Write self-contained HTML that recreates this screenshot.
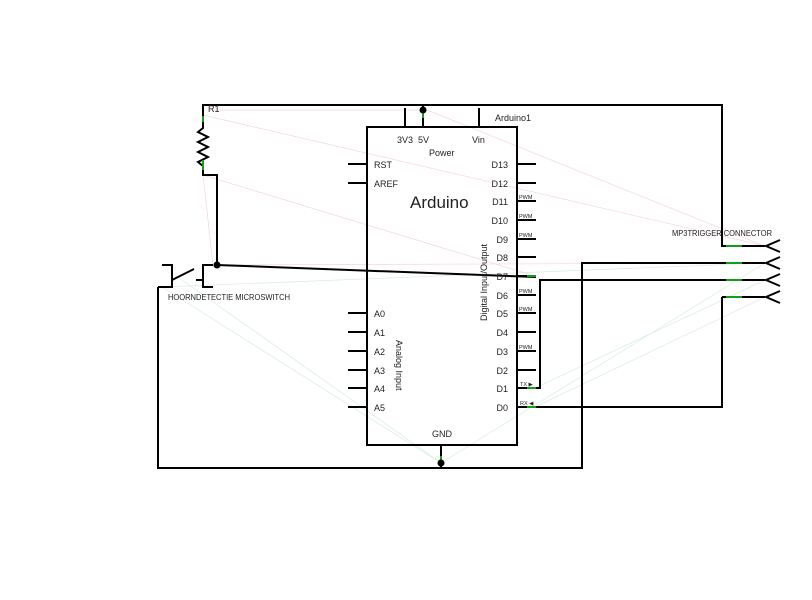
<!DOCTYPE html>
<html><head><style>
html,body{margin:0;padding:0;background:#fff;}
svg{display:block;}
text{font-family:"Liberation Sans","DejaVu Sans",sans-serif;fill:#222;}
</style></head><body>
<svg width="812" height="600" viewBox="0 0 812 600" xmlns="http://www.w3.org/2000/svg">
<g stroke="#f0d8d8" stroke-width="0.7" fill="none">
<line x1="203" y1="115" x2="765" y2="246"/>
<line x1="203" y1="175" x2="535" y2="276"/>
<line x1="210" y1="110" x2="423" y2="110"/>
<line x1="427" y1="110" x2="765" y2="246"/>
<line x1="203" y1="175" x2="213" y2="265"/>
<line x1="213" y1="265" x2="765" y2="263"/>
</g>
<g stroke="#d6ecdf" stroke-width="0.7" fill="none">
<line x1="162" y1="287" x2="441" y2="463"/>
<line x1="175" y1="275" x2="441" y2="463"/>
<line x1="441" y1="463" x2="765" y2="263"/>
<line x1="535" y1="388" x2="765" y2="280"/>
<line x1="535" y1="407" x2="765" y2="297"/>
<line x1="162" y1="287" x2="765" y2="263"/>
</g>
<g stroke="#000" stroke-width="2" fill="none">
<rect x="367" y="127" width="150" height="318"/>
<line x1="405" y1="108" x2="405" y2="127"/>
<line x1="423" y1="105" x2="423" y2="127"/>
<line x1="479" y1="108" x2="479" y2="127"/>
<line x1="348" y1="164" x2="367" y2="164"/>
<line x1="348" y1="183" x2="367" y2="183"/>
<line x1="348" y1="313" x2="367" y2="313"/>
<line x1="348" y1="332" x2="367" y2="332"/>
<line x1="348" y1="351" x2="367" y2="351"/>
<line x1="348" y1="370" x2="367" y2="370"/>
<line x1="348" y1="388" x2="367" y2="388"/>
<line x1="348" y1="407" x2="367" y2="407"/>
<line x1="517" y1="164" x2="536" y2="164"/>
<line x1="517" y1="183" x2="536" y2="183"/>
<line x1="517" y1="201" x2="536" y2="201"/>
<line x1="517" y1="220" x2="536" y2="220"/>
<line x1="517" y1="239" x2="536" y2="239"/>
<line x1="517" y1="257" x2="536" y2="257"/>
<line x1="517" y1="276" x2="536" y2="276"/>
<line x1="517" y1="295" x2="536" y2="295"/>
<line x1="517" y1="313" x2="536" y2="313"/>
<line x1="517" y1="332" x2="536" y2="332"/>
<line x1="517" y1="351" x2="536" y2="351"/>
<line x1="517" y1="370" x2="536" y2="370"/>
<line x1="517" y1="388" x2="536" y2="388"/>
<line x1="517" y1="407" x2="536" y2="407"/>
<line x1="441" y1="445" x2="441" y2="468"/>
<polyline points="203,118 203,105 722,105 722,246 765,246"/>
<polyline points="722,297 722,407 523,407"/>
<polyline points="765,263 582,263 582,468 158,468 158,287"/>
<polyline points="765,280 540,280 540,388 523,388"/>
<polyline points="217,265 536,277"/>
<line x1="722" y1="297" x2="765" y2="297"/>
<polyline points="203,118 203,128 198,132 208,137 198,142 208,147 198,152 208,157 198,162 203,166 203,175 217,175 217,265"/>
<polyline points="162,265 172,265 172,287 158,287"/>
<line x1="172" y1="280" x2="194" y2="269"/>
<polyline points="196,280 203,280"/>
<polyline points="213,265 203,265 203,287 213,287"/>
<polyline points="780,240 766,246 780,252"/>
<polyline points="780,257 766,263 780,269"/>
<polyline points="780,274 766,280 780,286"/>
<polyline points="780,291 766,297 780,303"/>
</g>
<g stroke="#1a9a1a" stroke-width="2">
<line x1="203" y1="116" x2="203" y2="122"/>
<line x1="203" y1="160" x2="203" y2="170"/>
<line x1="423" y1="110" x2="423" y2="118"/>
<line x1="441" y1="456" x2="441" y2="463"/>
<line x1="527" y1="276" x2="536" y2="276"/>
<line x1="527" y1="388" x2="536" y2="388"/>
<line x1="527" y1="407" x2="536" y2="407"/>
<line x1="726" y1="246" x2="742" y2="246"/>
<line x1="726" y1="263" x2="742" y2="263"/>
<line x1="726" y1="280" x2="742" y2="280"/>
<line x1="726" y1="297" x2="742" y2="297"/>
</g>
<g fill="#000">
<circle cx="423" cy="110" r="3.5"/>
<circle cx="217" cy="265" r="3.5"/>
<circle cx="441" cy="463" r="3.5"/>
</g>
<g font-size="9">
<text x="208" y="112">R1</text>
<text x="495" y="121">Arduino1</text>
<text x="397" y="143">3V3</text>
<text x="418" y="143">5V</text>
<text x="472" y="143">Vin</text>
<text x="429" y="156">Power</text>
<text x="374" y="168">RST</text>
<text x="374" y="187">AREF</text>
<text x="374" y="317">A0</text>
<text x="374" y="336">A1</text>
<text x="374" y="355">A2</text>
<text x="374" y="374">A3</text>
<text x="374" y="392">A4</text>
<text x="374" y="411">A5</text>
<text x="432" y="437">GND</text>
<g text-anchor="end">
<text x="508" y="168">D13</text>
<text x="508" y="187">D12</text>
<text x="508" y="205">D11</text>
<text x="508" y="224">D10</text>
<text x="508" y="243">D9</text>
<text x="508" y="261">D8</text>
<text x="508" y="280">D7</text>
<text x="508" y="299">D6</text>
<text x="508" y="317">D5</text>
<text x="508" y="336">D4</text>
<text x="508" y="355">D3</text>
<text x="508" y="374">D2</text>
<text x="508" y="392">D1</text>
<text x="508" y="411">D0</text>
</g>
<text transform="translate(487,321) rotate(-90)">Digital Input/Output</text>
<text transform="translate(396,340) rotate(90)">Analog Input</text>
<text x="168" y="300" font-size="8.5" textLength="122" lengthAdjust="spacingAndGlyphs">HOORNDETECTIE MICROSWITCH</text>
<text x="672" y="236" font-size="8.5" textLength="100" lengthAdjust="spacingAndGlyphs">MP3TRIGGER CONNECTOR</text>
</g>
<text x="410" y="208" font-size="17">Arduino</text>
<g font-size="5.5">
<text x="519" y="199">PWM</text>
<text x="519" y="218">PWM</text>
<text x="519" y="237">PWM</text>
<text x="519" y="293">PWM</text>
<text x="519" y="311">PWM</text>
<text x="519" y="349">PWM</text>
<text x="520" y="386">TX ▶</text>
<text x="520" y="405">RX ◀</text>
</g>
</svg>
</body></html>
